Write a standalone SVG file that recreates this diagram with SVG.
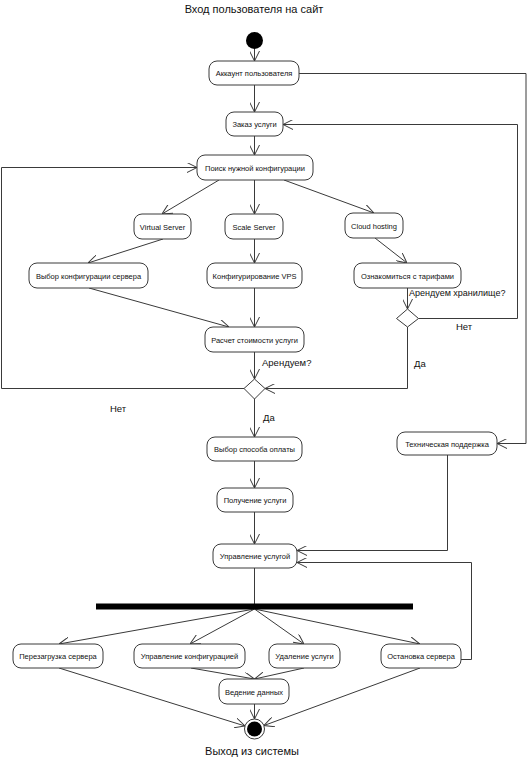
<svg xmlns="http://www.w3.org/2000/svg" width="527" height="758" viewBox="0 0 527 758">
<style>
.n rect{fill:#fff;stroke:#3a3a3a;stroke-width:1}
.n text{font-family:"Liberation Sans",Arial,sans-serif;font-size:7.5px;fill:#111;text-anchor:middle}
.c path,.c line,.c polyline{fill:none;stroke:#3a3a3a;stroke-width:1}
.lbl{font-family:"Liberation Sans",Arial,sans-serif;font-size:9.5px;fill:#111}
.ttl{font-family:"Liberation Sans",Arial,sans-serif;font-size:11px;fill:#111;text-anchor:middle}
.d{fill:#fff;stroke:#3a3a3a;stroke-width:1}
</style>
<defs>
<marker id="a" viewBox="0 0 10 10" refX="10" refY="5" markerWidth="10" markerHeight="10" markerUnits="userSpaceOnUse" orient="auto">
<path d="M0,0 L10,5 L0,10" fill="none" stroke="#3a3a3a" stroke-width="1"/>
</marker>
</defs>
<rect width="527" height="758" fill="#fff"/>
<text class="ttl" x="254" y="13">Вход пользователя на сайт</text>
<text class="ttl" x="252" y="755">Выход из системы</text>

<g id="start"><circle cx="254.5" cy="40.5" r="8.5" fill="#000"/></g>
<g id="end"><circle cx="254.5" cy="729" r="10" fill="#fff" stroke="#3a3a3a"/><circle cx="254.5" cy="729" r="7.5" fill="#000"/></g>

<g class="c" id="connectors">
<line x1="254.5" y1="49" x2="254.5" y2="61" marker-end="url(#a)"/>
<line x1="254.5" y1="85" x2="254.5" y2="112" marker-end="url(#a)"/>
<line x1="254.5" y1="136" x2="254.5" y2="155" marker-end="url(#a)"/>
<line x1="219" y1="180" x2="162" y2="214" marker-end="url(#a)"/>
<line x1="254.5" y1="180" x2="254.5" y2="214" marker-end="url(#a)"/>
<line x1="284" y1="180" x2="374" y2="213" marker-end="url(#a)"/>
<line x1="163" y1="239" x2="88" y2="263" marker-end="url(#a)"/>
<line x1="254.5" y1="239" x2="254.5" y2="263" marker-end="url(#a)"/>
<line x1="375" y1="238" x2="407" y2="263" marker-end="url(#a)"/>
<line x1="89" y1="288" x2="229" y2="327" marker-end="url(#a)"/>
<line x1="254.5" y1="288" x2="254.5" y2="327" marker-end="url(#a)"/>
<line x1="407.5" y1="288" x2="407.5" y2="309" marker-end="url(#a)"/>
<polyline points="418.5,318.5 517.5,318.5 517.5,124.5 283,124.5" marker-end="url(#a)"/>
<polyline points="407.5,327 407.5,388.5 265,388.5" marker-end="url(#a)"/>
<line x1="254.5" y1="352" x2="254.5" y2="379" marker-end="url(#a)"/>
<polyline points="244,388.5 1.5,388.5 1.5,167.5 197,167.5" marker-end="url(#a)"/>
<line x1="254.5" y1="399" x2="254.5" y2="437" marker-end="url(#a)"/>
<polyline points="299,73.5 526,73.5 526,443.5 497,443.5" marker-end="url(#a)"/>
<line x1="254.5" y1="461" x2="254.5" y2="488" marker-end="url(#a)"/>
<line x1="254.5" y1="512" x2="254.5" y2="544" marker-end="url(#a)"/>
<line x1="254.5" y1="568" x2="254.5" y2="604"/>
<polyline points="447.5,455 447.5,550.5 297,550.5" marker-end="url(#a)"/>
<polyline points="461,659.5 471.5,659.5 471.5,562.5 297,562.5" marker-end="url(#a)"/>
<line x1="254.5" y1="609" x2="59" y2="644" marker-end="url(#a)"/>
<line x1="254.5" y1="609" x2="190" y2="644" marker-end="url(#a)"/>
<line x1="254.5" y1="609" x2="304" y2="644" marker-end="url(#a)"/>
<line x1="254.5" y1="609" x2="420" y2="644" marker-end="url(#a)"/>
<line x1="59" y1="668" x2="245" y2="726" marker-end="url(#a)"/>
<line x1="420" y1="668" x2="264" y2="725.5" marker-end="url(#a)"/>
<line x1="191" y1="668" x2="254.5" y2="679" marker-end="url(#a)"/>
<line x1="304" y1="668" x2="254.5" y2="679" marker-end="url(#a)"/>
<line x1="254.5" y1="704" x2="254.5" y2="719" marker-end="url(#a)"/>
</g>

<g id="fork"><rect x="96" y="603.5" width="317" height="6" fill="#000"/></g>
<g id="dec1"><polygon class="d" points="254.5,379 265,388.5 254.5,399 244,388.5"/></g>
<g id="dec2"><polygon class="d" points="407.5,309 418.5,318.5 407.5,327 396.5,318.5"/></g>

<g class="n" id="acc"><rect x="209" y="61" width="90" height="24" rx="8"/><text x="254" y="76">Аккаунт пользователя</text></g>
<g class="n" id="order"><rect x="226" y="112" width="57" height="24" rx="8"/><text x="254.5" y="127">Заказ услуги</text></g>
<g class="n" id="search"><rect x="197" y="155" width="116" height="25" rx="8"/><text x="255" y="170.5">Поиск нужной конфигурации</text></g>
<g class="n" id="vs"><rect x="134" y="214" width="57" height="25" rx="8"/><text x="162.5" y="229.5">Virtual Server</text></g>
<g class="n" id="ss"><rect x="225" y="214" width="58" height="25" rx="8"/><text x="254" y="229.5">Scale Server</text></g>
<g class="n" id="ch"><rect x="345" y="213" width="58" height="25" rx="8"/><text x="374" y="228.5">Cloud hosting</text></g>
<g class="n" id="vybor"><rect x="29" y="263" width="119" height="25" rx="8"/><text x="88.5" y="278.5">Выбор конфигурации сервера</text></g>
<g class="n" id="vps"><rect x="207" y="263" width="95" height="25" rx="8"/><text x="254.5" y="278.5">Конфигурирование VPS</text></g>
<g class="n" id="tarif"><rect x="354" y="263" width="107" height="25" rx="8"/><text x="407.5" y="278.5">Ознакомиться с тарифами</text></g>
<g class="n" id="calc"><rect x="205" y="327" width="99" height="25" rx="8"/><text x="254.5" y="342.5">Расчет стоимости услуги</text></g>
<g class="n" id="pay"><rect x="207" y="437" width="95" height="24" rx="8"/><text x="254.5" y="452">Выбор способа оплаты</text></g>
<g class="n" id="tech"><rect x="397" y="432" width="100" height="23" rx="8"/><text x="447" y="446.5">Техническая поддержка</text></g>
<g class="n" id="get"><rect x="217" y="488" width="76" height="24" rx="8"/><text x="255" y="503">Получение услуги</text></g>
<g class="n" id="manage"><rect x="213" y="544" width="84" height="24" rx="8"/><text x="255" y="559">Управление услугой</text></g>
<g class="n" id="reboot"><rect x="13" y="644" width="90" height="24" rx="8"/><text x="58" y="659">Перезагрузка сервера</text></g>
<g class="n" id="mconf"><rect x="134" y="644" width="111" height="24" rx="8"/><text x="189.5" y="659">Управление конфигурацией</text></g>
<g class="n" id="del"><rect x="269" y="644" width="71" height="24" rx="8"/><text x="304.5" y="659">Удаление услуги</text></g>
<g class="n" id="stop"><rect x="381" y="644" width="80" height="24" rx="8"/><text x="421" y="659">Остановка сервера</text></g>
<g class="n" id="data"><rect x="219" y="679" width="70" height="25" rx="8"/><text x="254" y="694.5">Ведение данных</text></g>

<g id="labels">
<text class="lbl" x="262" y="366">Арендуем?</text>
<text class="lbl" x="409" y="296" style="font-size:9px">Арендуем хранилище?</text>
<text class="lbl" x="456" y="330">Нет</text>
<text class="lbl" x="414" y="367">Да</text>
<text class="lbl" x="110" y="412">Нет</text>
<text class="lbl" x="263" y="421">Да</text>
</g>
</svg>
